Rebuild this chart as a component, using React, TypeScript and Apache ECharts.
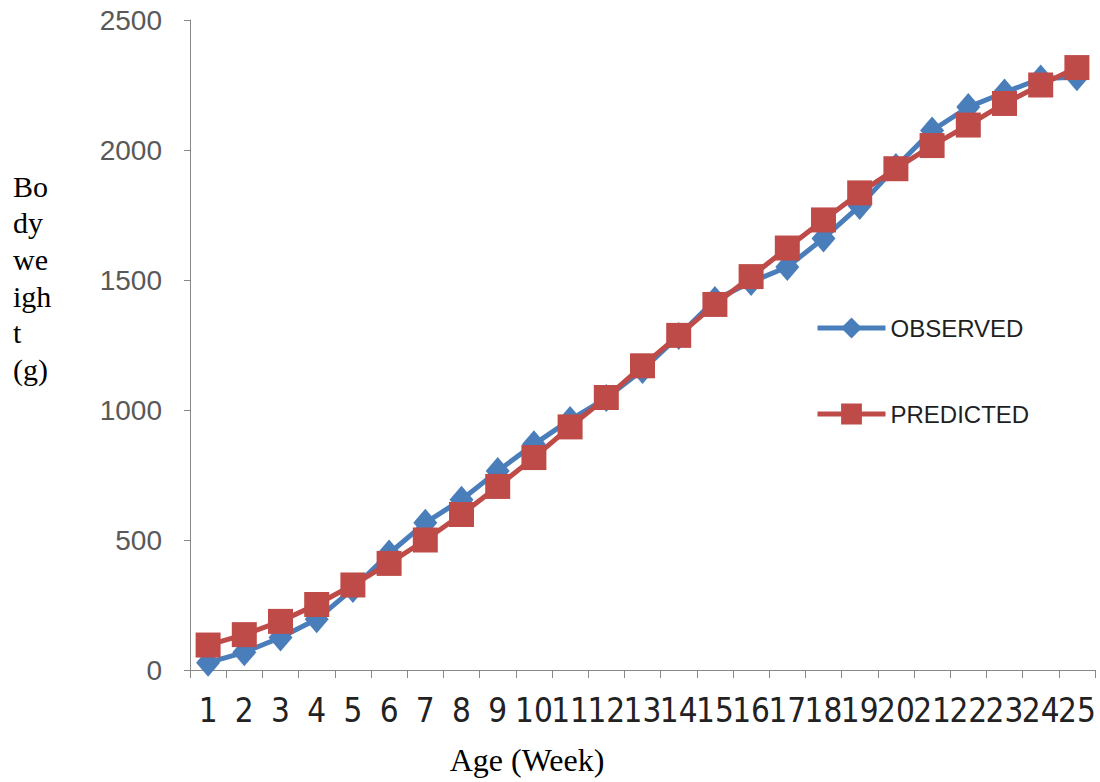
import React, { useEffect, useRef } from "react";
import * as echarts from "echarts";

const weeks = ["1","2","3","4","5","6","7","8","9","10","11","12","13","14","15","16","17","18","19","20","21","22","23","24","25"];
const observed = [28, 68, 125, 195, 312, 448, 566, 655, 765, 868, 962, 1046, 1154, 1285, 1423, 1492, 1550, 1660, 1785, 1935, 2075, 2165, 2221, 2275, 2280];
const predicted = [96, 136, 187, 252, 327, 410, 500, 598, 706, 817, 935, 1048, 1170, 1287, 1406, 1513, 1623, 1731, 1835, 1928, 2017, 2096, 2179, 2250, 2317];
const yTicks = [0, 500, 1000, 1500, 2000, 2500];

export default function App() {
  const ref = useRef<HTMLDivElement>(null);
  useEffect(() => {
    const chart = echarts.init(ref.current!, null, { renderer: "svg" });
    const blue = "#4A7EBB";
    const red = "#BE4B48";
    chart.setOption({
      animation: false,
      backgroundColor: "#ffffff",
      grid: { left: 190, right: 5, top: 20, bottom: 112, containLabel: false },
      legend: {
        orient: "vertical",
        left: 810,
        top: 311,
        itemWidth: 68,
        itemHeight: 26,
        itemGap: 62,
        lineStyle: { width: 5 },
        textStyle: { fontFamily: "'Liberation Sans', Arial, sans-serif", fontSize: 24, color: "#1f1f1f", padding: [0, 0, 0, 0] },
        data: ["OBSERVED", "PREDICTED"],
      },
      xAxis: {
        type: "category",
        data: weeks,
        boundaryGap: true,
        axisLine: { lineStyle: { color: "#888888", width: 1 } },
        axisTick: { show: true, length: 8, lineStyle: { color: "#888888" } },
        axisLabel: {
          interval: 0,
          margin: 24,
          fontFamily: "'Liberation Sans Narrow', 'DejaVu Sans Condensed', 'Liberation Sans', sans-serif",
          fontSize: 33,
          color: "#222222",
        },
        splitLine: { show: false },
      },
      yAxis: {
        type: "value",
        min: 0,
        max: 2500,
        interval: 500,
        axisLine: { show: true, lineStyle: { color: "#888888", width: 1 } },
        axisTick: { show: true, length: 6, lineStyle: { color: "#888888" } },
        axisLabel: {
          margin: 28,
          fontFamily: "'Liberation Sans', Arial, sans-serif",
          fontSize: 28,
          color: "#595959",
          formatter: (v: number) => (yTicks.includes(v) ? String(v) : ""),
        },
        splitLine: { show: false },
      },
      series: [
        {
          name: "OBSERVED",
          type: "line",
          data: observed,
          symbol: "diamond",
          symbolSize: [24, 28],
          itemStyle: { color: blue },
          lineStyle: { color: blue, width: 5 },
        },
        {
          name: "PREDICTED",
          type: "line",
          data: predicted,
          symbol: "rect",
          symbolSize: 25,
          itemStyle: { color: red },
          lineStyle: { color: red, width: 5 },
        },
      ],
      graphic: [
        {
          type: "text",
          left: 13,
          top: 168,
          style: {
            text: "Bo\ndy\nwe\nigh\nt\n(g)",
            font: "30px 'Liberation Serif', 'Times New Roman', serif",
            lineHeight: 36.6,
            fill: "#000000",
          },
        },
        {
          type: "text",
          x: 527,
          y: 760,
          style: {
            text: "Age (Week)",
            font: "32px 'Liberation Serif', 'Times New Roman', serif",
            fill: "#000000",
            align: "center",
            verticalAlign: "middle",
          },
        },
      ],
    });
    return () => chart.dispose();
  }, []);
  return (
    <div
      ref={ref}
      style={{ position: "fixed", left: 0, top: 0, width: 1100, height: 782, background: "#fff" }}
    />
  );
}
